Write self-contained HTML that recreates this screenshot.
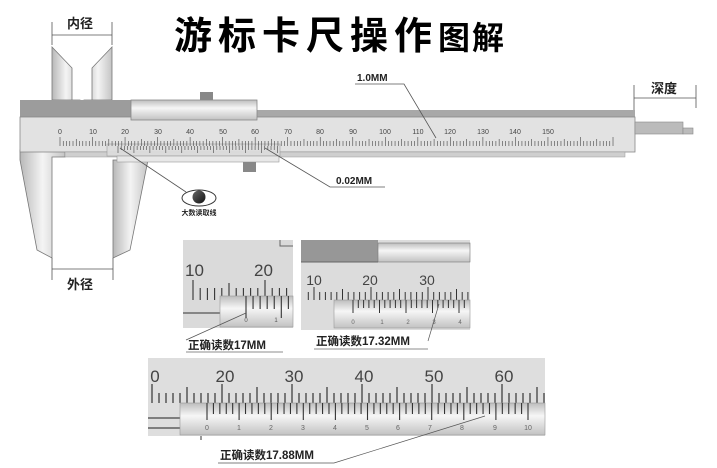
<!DOCTYPE html>
<html><head><meta charset="utf-8"><style>
html,body{margin:0;padding:0;background:#fff;}
svg{display:block;font-family:"Liberation Sans","Noto Sans CJK SC",sans-serif;}
</style></head><body>
<svg id="s" width="717" height="468" viewBox="0 0 717 468" xmlns="http://www.w3.org/2000/svg">
<defs>
<linearGradient id="jaw" x1="0" x2="1" y1="0" y2="0"><stop offset="0" stop-color="#b8b8b8"/><stop offset="0.5" stop-color="#f4f4f4"/><stop offset="1" stop-color="#c4c4c4"/></linearGradient>
<linearGradient id="cyl" x1="0" x2="0" y1="0" y2="1"><stop offset="0" stop-color="#bdbdbd"/><stop offset="0.4" stop-color="#f6f6f6"/><stop offset="1" stop-color="#c2c2c2"/></linearGradient>
<linearGradient id="ball" x1="0" x2="1" y1="0" y2="1"><stop offset="0" stop-color="#666"/><stop offset="1" stop-color="#111"/></linearGradient>
</defs>
<!-- title -->
<text x="174" y="49" font-size="38" font-weight="bold" letter-spacing="6">游标卡尺操作<tspan font-size="32" letter-spacing="2">图解</tspan></text>
<!-- upper jaws -->
<polygon points="52,47 72,68 72,113 80,113 80,100 52,100" fill="url(#jaw)" stroke="#777" stroke-width="0.8"/>
<polygon points="112,47 92,68 92,110 84,113 84,100 112,100" fill="url(#jaw)" stroke="#777" stroke-width="0.8"/>
<!-- lower jaws -->
<polygon points="20,150 65,150 65,157 52,157 52,258 37,250 20,160" fill="url(#jaw)" stroke="#777" stroke-width="0.8"/>
<polygon points="113,160 148,160 130,250 113,258" fill="url(#jaw)" stroke="#777" stroke-width="0.8"/>
<!-- beam -->
<rect x="20" y="100" width="112" height="17" fill="#9c9c9c"/>
<rect x="132" y="110" width="503" height="7" fill="#a8a8a8"/>
<rect x="20" y="117" width="615" height="35" fill="#e2e2e2" stroke="#888" stroke-width="0.8"/>
<rect x="65" y="152" width="560" height="5" fill="#cfcfcf" stroke="#999" stroke-width="0.5"/>
<rect x="635" y="122" width="48" height="12" fill="#bbb" stroke="#888" stroke-width="0.6"/>
<rect x="683" y="128" width="10" height="6" fill="#bbb" stroke="#888" stroke-width="0.6"/>
<!-- slider top -->
<rect x="200" y="92" width="13" height="9" fill="#888"/>
<rect x="131" y="100" width="126" height="20" fill="url(#cyl)" stroke="#888" stroke-width="0.8"/>
<!-- vernier -->
<rect x="107" y="144" width="173" height="12" fill="#ddd" stroke="#999" stroke-width="0.6" opacity="0.9"/>
<rect x="117" y="156" width="162" height="6" fill="#e8e8e8" stroke="#999" stroke-width="0.6"/>
<rect x="243" y="162" width="13" height="10" fill="#888"/>
<g id="mainTicks" stroke="#444" stroke-width="0.6"></g>
<g font-size="7" fill="#444" text-anchor="middle">
<text x="60" y="134">0</text><text x="93" y="134">10</text><text x="125" y="134">20</text><text x="158" y="134">30</text><text x="190" y="134">40</text><text x="223" y="134">50</text><text x="255" y="134">60</text><text x="288" y="134">70</text><text x="320" y="134">80</text><text x="353" y="134">90</text><text x="385" y="134">100</text><text x="418" y="134">110</text><text x="450" y="134">120</text><text x="483" y="134">130</text><text x="515" y="134">140</text><text x="548" y="134">150</text>
</g>
<!-- dimension labels -->
<g stroke="#555" stroke-width="0.8" fill="none">
<line x1="52" y1="22" x2="52" y2="45"/><line x1="112" y1="22" x2="112" y2="45"/><line x1="52" y1="35" x2="112" y2="35"/>
<line x1="52" y1="258" x2="52" y2="280"/><line x1="113" y1="258" x2="113" y2="280"/><line x1="52" y1="269" x2="113" y2="269"/>
<line x1="634" y1="85" x2="634" y2="110"/><line x1="696" y1="85" x2="696" y2="108"/><line x1="634" y1="98" x2="696" y2="98"/>
<polyline points="355,84 404,84 436,138"/>
<polyline points="265,148 330,187 385,187"/>
<line x1="120" y1="148" x2="186" y2="192"/>
</g>
<g font-weight="bold" font-size="13" fill="#222">
<text x="67" y="28">内径</text>
<text x="67" y="289">外径</text>
<text x="651" y="93">深度</text>
</g>
<text x="357" y="81" font-size="10" font-weight="bold" fill="#222">1.0MM</text>
<text x="336" y="184" font-size="10" font-weight="bold" fill="#222">0.02MM</text>
<ellipse cx="199" cy="198" rx="17" ry="8" fill="#fff" stroke="#333" stroke-width="1"/>
<circle cx="199" cy="197" r="6.5" fill="url(#ball)"/>
<text x="199" y="215" font-size="7" font-weight="bold" text-anchor="middle" fill="#222">大数读取线</text>
<!-- panel 1 -->
<rect x="183" y="240" width="110" height="88" fill="#dadada"/>
<polyline points="280,240 280,246 293,246" fill="none" stroke="#666"/>
<line x1="183" y1="313" x2="220" y2="313" stroke="#555" stroke-width="1.2"/>
<g id="p1m" stroke="#333" stroke-width="1.1"></g>
<rect x="220" y="296" width="73" height="31" fill="url(#cyl)" stroke="#999" stroke-width="0.6"/>
<g id="p1v" stroke="#333" stroke-width="1.1"></g>
<g font-size="17" fill="#444"><text x="185" y="276">10</text><text x="254" y="276">20</text></g>
<g font-size="6" fill="#555" text-anchor="middle"><text x="246" y="322">0</text><text x="276" y="322">1</text></g>
<line x1="186" y1="340" x2="246" y2="313" stroke="#555" stroke-width="0.7"/>
<text x="188" y="349" font-size="11.5" font-weight="bold" fill="#222">正确读数17MM</text>
<line x1="186" y1="352" x2="283" y2="352" stroke="#666" stroke-width="0.8"/>
<!-- panel 2 -->
<rect x="301" y="240" width="169" height="90" fill="#dcdcdc"/>
<rect x="301" y="240" width="77" height="22" fill="#979797"/>
<rect x="378" y="243" width="92" height="19" fill="url(#cyl)" stroke="#777" stroke-width="0.6"/>
<polyline points="301,262 378,262" stroke="#666"/>
<g id="p2m" stroke="#333" stroke-width="1"></g>
<rect x="334" y="300" width="136" height="28" fill="url(#cyl)" stroke="#999" stroke-width="0.6"/>
<g id="p2v" stroke="#333" stroke-width="1"></g>
<g font-size="14" fill="#444" text-anchor="middle"><text x="314" y="285">10</text><text x="370" y="285">20</text><text x="427" y="285">30</text></g>
<g font-size="6" fill="#666" text-anchor="middle"><text x="353" y="324">0</text><text x="382" y="324">1</text><text x="408" y="324">2</text><text x="434" y="324">3</text><text x="460" y="324">4</text></g>
<polyline points="428,341 439,304" fill="none" stroke="#555" stroke-width="0.7"/>
<text x="316" y="345" font-size="11.5" font-weight="bold" fill="#222">正确读数17.32MM</text>
<line x1="314" y1="349" x2="428" y2="349" stroke="#666" stroke-width="0.8"/>
<!-- panel 3 -->
<rect x="148" y="358" width="397" height="78" fill="#dedede"/>
<line x1="148" y1="418" x2="180" y2="418" stroke="#444" stroke-width="1.2"/>
<line x1="148" y1="428" x2="180" y2="428" stroke="#444" stroke-width="1.2"/>
<g id="p3m" stroke="#333" stroke-width="1.2"></g>
<rect x="180" y="403" width="365" height="32" fill="url(#cyl)" stroke="#999" stroke-width="0.6"/>
<g id="p3v" stroke="#333" stroke-width="1.1"></g>
<g font-size="17" fill="#444" text-anchor="middle"><text x="155" y="382">0</text><text x="225" y="382">20</text><text x="294" y="382">30</text><text x="364" y="382">40</text><text x="434" y="382">50</text><text x="504" y="382">60</text></g>
<g font-size="7" fill="#666" text-anchor="middle"><text x="207" y="430">0</text><text x="239" y="430">1</text><text x="271" y="430">2</text><text x="303" y="430">3</text><text x="335" y="430">4</text><text x="367" y="430">5</text><text x="398" y="430">6</text><text x="430" y="430">7</text><text x="462" y="430">8</text><text x="495" y="430">9</text><text x="528" y="430">10</text></g>
<line x1="201" y1="436" x2="201" y2="440" stroke="#333"/>
<polyline points="218,463 334,463 485,416" fill="none" stroke="#555" stroke-width="0.7"/>
<text x="220" y="459" font-size="11.5" font-weight="bold" fill="#222">正确读数17.88MM</text>
</svg>
<script>
function L(g,x1,y1,x2,y2){var l=document.createElementNS("http://www.w3.org/2000/svg","line");l.setAttribute("x1",x1);l.setAttribute("y1",y1);l.setAttribute("x2",x2);l.setAttribute("y2",y2);document.getElementById(g).appendChild(l);}
var i,x;
for(i=0;i<=170;i++){x=60+3.253*i;if(x>616)break;L("mainTicks",x,i%10==0?137:(i%5==0?139:141),x,146);}
for(i=0;i<=50;i++){x=118+3.188*i;L("mainTicks",x,146,x,i%5==0?153:150);}
for(i=0;i<15;i++){x=193+7.2*(i-0);if(x>292)break;L("p1m",x,i%10==0?280:(i%5==0?283:288),x,300);}
for(i=0;i<=7;i++){x=246+7.06*i;if(x>292)break;L("p1v",x,296,x,i%5==0?318:309);}
for(i=-1;i<40;i++){x=314+5.7*i;if(x>470)break;if(x<303)continue;L("p2m",x,((i%10)+10)%10==0?287:(((i%5)+5)%5==0?289:292),x,300);}
for(i=0;i<30;i++){x=353+5.3*i;if(x>469)break;L("p2v",x,300,x,i%5==0?313:308);}
for(i=0;i<60;i++){x=152+7*i;if(x>544)break;var k=i%10;L("p3m",x,(k==0)?384:(k==5?387:393),x,403);}
for(i=0;i<=50;i++){x=207+6.42*i;if(x>540)break;L("p3v",x,403,x,i%5==0?420:414);}
</script>
</body></html>
